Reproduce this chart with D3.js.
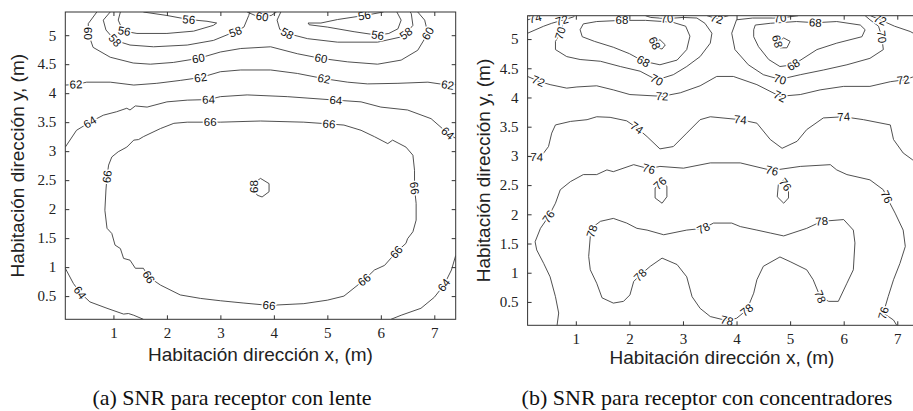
<!DOCTYPE html>
<html><head><meta charset="utf-8">
<script src="https://cdn.jsdelivr.net/npm/d3@7"></script>
<style>body{margin:0;background:#fff}</style>
</head><body><svg id="c" width="913" height="411"></svg>
<script>
// ---------- axes ----------
const xTicks = [1,2,3,4,5,6,7];
const yTicks = [0.5,1,1.5,2,2.5,3,3.5,4,4.5,5];
const xDomain = [0.1,7.4];
const yDomain = [0.1,5.4];
const xTitle = "Habitación dirección x, (m)";
const yTitle = "Habitación dirección y, (m)";
const captions = ["(a) SNR para receptor con lente","(b) SNR para receptor con concentradores"];

// ---------- (a) lente : contour lines [x,y] in metres ----------
const l56a = [[1.13,5.4],[1.09,5.26],[1.16,5.11],[1.19,5.07],[1.44,5.03],[2.0,5.03],[2.5,5.07],[2.87,5.17],[2.93,5.21],[2.75,5.24],[2.41,5.27],[2.0,5.34],[1.56,5.4]];
const l56aLab = [[1.2,5.07],[2.41,5.27]];
const l56b = [[6.05,5.4],[5.69,5.34],[5.19,5.27],[4.88,5.21],[4.64,5.21],[4.66,5.18],[5.0,5.14],[5.5,5.06],[5.94,5.0],[6.15,5.03],[6.32,5.11],[6.38,5.26],[6.3,5.4]];
const l56bLab = [[5.69,5.34],[5.94,5.0]];
const l58a = [[0.94,5.4],[0.81,5.26],[0.86,5.09],[1.03,4.91],[1.31,4.83],[1.75,4.8],[2.38,4.83],[2.87,4.91],[3.19,5.03],[3.28,5.06],[3.44,5.14],[3.53,5.34],[3.55,5.4]];
const l58aLab = [[1.03,4.91],[3.28,5.06]];
const l58b = [[4.13,5.4],[4.06,5.26],[4.11,5.1],[4.25,5.03],[4.63,4.94],[5.19,4.88],[5.94,4.88],[6.38,4.97],[6.47,5.03],[6.6,5.17],[6.57,5.37],[6.55,5.4]];
const l58bLab = [[4.25,5.03],[6.47,5.03]];
const l60a = [[0.69,5.4],[0.53,5.2],[0.53,5.03],[0.62,4.79],[0.94,4.62],[1.37,4.52],[1.69,4.5],[2.12,4.53],[2.59,4.6],[3.0,4.71],[3.38,4.77],[3.94,4.8],[4.44,4.68],[4.88,4.6],[5.38,4.54],[5.94,4.5],[6.38,4.57],[6.69,4.74],[6.88,5.03],[6.82,5.26],[6.69,5.4]];
const l60aLab = [[0.53,5.03],[2.59,4.6],[4.88,4.6],[6.88,5.03]];
const l60b = [[3.5,5.4],[3.65,5.34],[3.78,5.32],[3.95,5.34],[4.05,5.4]];
const l60bLab = [[3.78,5.32]];
const l62 = [[0.1,4.14],[0.3,4.15],[0.5,4.19],[0.94,4.19],[1.38,4.14],[1.81,4.17],[2.25,4.22],[2.63,4.27],[3.0,4.37],[3.38,4.4],[3.94,4.4],[4.44,4.34],[4.94,4.25],[5.38,4.19],[5.75,4.16],[6.32,4.17],[6.88,4.19],[7.25,4.14],[7.4,4.15]];
const l62Lab = [[0.3,4.15],[2.63,4.27],[4.94,4.25],[7.25,4.14]];
const l64a = [[0.1,3.07],[0.31,3.36],[0.56,3.5],[0.81,3.62],[1.06,3.68],[1.25,3.74],[1.31,3.71],[1.41,3.78],[1.63,3.76],[2.0,3.85],[2.38,3.88],[2.78,3.89],[3.0,3.94],[3.5,3.97],[4.25,3.94],[5.16,3.88],[5.63,3.85],[6.0,3.76],[6.5,3.71],[6.94,3.56],[7.25,3.31],[7.4,3.22]];
const l64aLab = [[0.56,3.5],[2.78,3.89],[5.16,3.88],[7.25,3.31]];
const l64b = [[0.1,0.98],[0.25,0.72],[0.375,0.56],[0.56,0.4],[0.88,0.29],[1.19,0.19],[1.28,0.2],[1.38,0.17],[1.56,0.1]];
const l64bLab = [[0.375,0.56]];
const l64c = [[6.19,0.1],[6.38,0.17],[6.75,0.29],[7.0,0.48],[7.18,0.69],[7.32,0.95],[7.4,1.2]];
const l64cLab = [[7.18,0.69]];
const l66 = [[3.0,3.5],[2.38,3.5],[2.13,3.48],[1.88,3.39],[1.56,3.25],[1.47,3.2],[1.38,3.19],[1.25,3.07],[1.09,2.99],[0.97,2.9],[0.91,2.76],[0.88,2.56],[0.86,2.33],[0.84,1.98],[0.88,1.67],[0.97,1.58],[1.03,1.38],[1.13,1.32],[1.19,1.15],[1.31,1.12],[1.41,0.98],[1.56,0.98],[1.66,0.83],[1.88,0.69],[2.25,0.52],[2.63,0.46],[3.0,0.42],[3.44,0.38],[3.91,0.34],[4.56,0.37],[5.0,0.43],[5.31,0.5],[5.69,0.78],[5.88,0.95],[6.07,1.03],[6.29,1.26],[6.47,1.41],[6.5,1.49],[6.6,1.61],[6.66,1.81],[6.66,2.1],[6.63,2.36],[6.63,2.67],[6.6,2.93],[6.47,3.07],[6.22,3.19],[6.13,3.13],[5.88,3.25],[5.63,3.36],[5.31,3.45],[5.03,3.47],[4.56,3.5],[3.75,3.52],[3.0,3.5]];
const l66Lab = [[2.81,3.5],[0.88,2.56],[1.66,0.83],[3.91,0.34],[5.69,0.78],[6.29,1.26],[6.63,2.36],[5.03,3.47]];
const l68 = [[3.75,2.53],[3.91,2.44],[3.91,2.3],[3.78,2.21],[3.69,2.24],[3.63,2.33],[3.63,2.45],[3.75,2.53]];
const l68Lab = [[3.63,2.39]];

// ---------- (b) concentradores ----------
const c74a = [[0.1,5.33],[0.24,5.36],[0.32,5.4]];
const c74aLab = [[0.24,5.36]];
const c72a = [[0.1,5.1],[0.4,5.22],[0.55,5.27],[0.74,5.32],[0.96,5.38],[0.98,5.4]];
const c72aLab = [[0.74,5.32]];
const c70a = [[0.85,5.4],[0.8,5.36],[0.71,5.1],[0.62,4.96],[0.62,4.82],[0.83,4.7],[1.08,4.65],[1.46,4.62],[1.83,4.53],[2.2,4.45],[2.51,4.3],[2.82,4.39],[3.07,4.53],[3.32,4.7],[3.51,4.93],[3.54,5.1],[3.41,5.27],[3.26,5.36],[3.0,5.37],[2.7,5.35],[2.4,5.37],[2.3,5.4]];
const c70aLab = [[0.71,5.1],[2.51,4.3],[2.7,5.35]];
const c68a = [[1.14,5.26],[1.08,5.16],[1.12,5.04],[1.35,4.96],[1.7,4.86],[2.0,4.75],[2.26,4.62],[2.57,4.56],[2.89,4.64],[3.07,4.82],[3.13,5.05],[3.05,5.22],[2.8,5.29],[2.3,5.32],[1.86,5.32],[1.39,5.3],[1.14,5.26]];
const c68aLab = [[1.86,5.32],[2.26,4.62]];
const c68a2 = [[2.57,4.99],[2.67,4.9],[2.61,4.83],[2.51,4.85],[2.47,4.93],[2.57,4.99]];
const c68a2Lab = [[2.47,4.93]];
const c72b = [[3.45,5.4],[3.63,5.35],[3.85,5.4]];
const c72bLab = [[3.63,5.35]];
const c70b = [[5.15,5.4],[4.81,5.36],[4.3,5.36],[4.0,5.33],[3.91,5.1],[3.97,4.82],[4.22,4.56],[4.5,4.39],[4.81,4.31],[5.19,4.39],[5.62,4.47],[6.06,4.56],[6.49,4.67],[6.74,4.82],[6.71,5.04],[6.65,5.22],[6.49,5.33],[6.4,5.4]];
const c70bLab = [[4.81,5.36],[4.81,4.31],[6.71,5.04]];
const c68b = [[4.32,5.16],[4.35,5.24],[4.63,5.27],[5.12,5.3],[5.47,5.28],[5.87,5.3],[6.31,5.24],[6.4,5.16],[6.34,5.04],[5.87,4.93],[5.5,4.82],[5.06,4.56],[4.81,4.53],[4.6,4.65],[4.41,4.87],[4.32,5.04],[4.32,5.16]];
const c68bLab = [[5.47,5.28],[5.06,4.56]];
const c68b2 = [[4.88,5.02],[5.0,4.96],[4.94,4.85],[4.81,4.85],[4.78,4.95],[4.88,5.02]];
const c68b2Lab = [[4.76,4.96]];
const c72c = [[6.5,5.4],[6.68,5.33],[6.95,5.22],[7.24,5.13],[7.4,5.05]];
const c72cLab = [[6.68,5.33]];
const c72 = [[0.1,4.36],[0.3,4.28],[0.52,4.22],[0.83,4.16],[1.02,4.18],[1.39,4.2],[1.7,4.13],[2.01,4.05],[2.61,4.02],[2.95,4.08],[3.32,4.2],[3.63,4.36],[3.94,4.36],[4.38,4.22],[4.81,4.02],[5.19,4.05],[5.56,4.13],[6.0,4.19],[6.49,4.19],[6.87,4.27],[7.11,4.3],[7.29,4.35],[7.4,4.37]];
const c72Lab = [[0.3,4.28],[2.61,4.02],[4.81,4.02],[7.11,4.3]];
const c74 = [[0.1,2.99],[0.27,2.98],[0.4,3.05],[0.49,3.16],[0.55,3.39],[0.62,3.53],[0.9,3.59],[1.21,3.62],[1.39,3.67],[1.64,3.66],[1.95,3.6],[2.14,3.48],[2.33,3.33],[2.57,3.12],[2.82,3.16],[3.07,3.39],[3.32,3.62],[3.51,3.67],[4.07,3.62],[4.38,3.56],[4.63,3.28],[4.85,3.13],[5.13,3.25],[5.31,3.45],[5.62,3.65],[6.0,3.67],[6.37,3.62],[6.87,3.53],[6.93,3.28],[7.11,3.05],[7.29,2.93],[7.4,2.9]];
const c74Lab = [[0.27,2.98],[2.14,3.48],[4.07,3.62],[6.0,3.67]];
const c76 = [[0.65,0.1],[0.68,0.31],[0.62,0.59],[0.52,0.93],[0.4,1.16],[0.27,1.39],[0.24,1.53],[0.34,1.76],[0.49,1.96],[0.62,2.19],[0.71,2.42],[0.9,2.56],[1.14,2.68],[1.39,2.68],[1.58,2.76],[1.7,2.73],[2.08,2.85],[2.36,2.78],[2.57,2.82],[3.01,2.79],[3.51,2.88],[4.07,2.88],[4.66,2.75],[5.19,2.82],[5.75,2.85],[5.87,2.76],[6.06,2.68],[6.49,2.59],[6.74,2.42],[6.8,2.3],[6.96,2.02],[7.11,1.73],[7.15,1.45],[7.05,1.16],[6.93,0.88],[6.83,0.59],[6.74,0.31],[6.93,0.19],[6.99,0.1]];
const c76Lab = [[0.49,1.96],[2.36,2.78],[4.66,2.75],[6.8,2.3],[6.74,0.31]];
const c76a = [[2.61,2.56],[2.7,2.48],[2.7,2.3],[2.61,2.19],[2.48,2.28],[2.48,2.45],[2.61,2.56]];
const c76aLab = [[2.57,2.53]];
const c76b = [[4.88,2.59],[4.97,2.48],[4.97,2.28],[4.88,2.19],[4.76,2.3],[4.78,2.51],[4.88,2.59]];
const c76bLab = [[4.91,2.51]];
const c78 = [[1.27,1.62],[1.24,1.28],[1.27,1.05],[1.39,0.82],[1.49,0.57],[1.7,0.48],[1.89,0.51],[2.01,0.62],[2.08,0.85],[2.2,0.96],[2.39,1.11],[2.61,1.25],[2.89,1.14],[3.07,0.93],[3.17,0.59],[3.32,0.39],[3.51,0.25],[3.82,0.18],[4.0,0.22],[4.19,0.36],[4.32,0.65],[4.38,0.88],[4.5,1.11],[4.81,1.27],[5.0,1.19],[5.31,1.05],[5.43,0.88],[5.56,0.59],[5.72,0.51],[5.9,0.51],[6.06,0.82],[6.18,1.05],[6.21,1.51],[6.18,1.73],[6.0,1.91],[5.59,1.88],[5.31,1.76],[4.88,1.63],[4.63,1.68],[4.38,1.73],[4.07,1.79],[3.91,1.85],[3.57,1.85],[3.38,1.76],[3.07,1.73],[2.64,1.65],[2.33,1.73],[2.14,1.76],[1.95,1.85],[1.7,1.93],[1.46,1.88],[1.33,1.79],[1.27,1.62]];
const c78Lab = [[1.3,1.71],[2.2,0.96],[3.82,0.18],[4.19,0.36],[5.56,0.59],[5.59,1.88],[3.38,1.76]];

// tables built from the arrays above
const lenteLines = [
  [56,l56a,l56aLab],[56,l56b,l56bLab],[58,l58a,l58aLab],[58,l58b,l58bLab],
  [60,l60a,l60aLab],[60,l60b,l60bLab],[62,l62,l62Lab],[64,l64a,l64aLab],
  [64,l64b,l64bLab],[64,l64c,l64cLab],[66,l66,l66Lab],[68,l68,l68Lab]];
const concLines = [
  [74,c74a,c74aLab],[72,c72a,c72aLab],[70,c70a,c70aLab],[68,c68a,c68aLab],[68,c68a2,c68a2Lab],
  [72,c72b,c72bLab],[70,c70b,c70bLab],[68,c68b,c68bLab],[68,c68b2,c68b2Lab],[72,c72c,c72cLab],
  [72,c72,c72Lab],[74,c74,c74Lab],[76,c76,c76Lab],[76,c76a,c76aLab],[76,c76b,c76bLab],[78,c78,c78Lab]];

const svg = d3.select("#c");
const panels = [
  {lines: lenteLines, xr:[65.3,455.7], yr:[319.3,12], ytx:24, xty:361, cap:captions[0], capx:232},
  {lines: concLines,  xr:[527.6,918.7], yr:[325.3,15.7], ytx:490, xty:364, cap:captions[1], capx:707}
];

panels.forEach((p,i)=>{
  const x = d3.scaleLinear().domain(xDomain).range(p.xr);
  const y = d3.scaleLinear().domain(yDomain).range(p.yr);
  const g = svg.append("g");
  const clipId = "clip"+i;
  g.append("clipPath").attr("id",clipId).append("rect")
    .attr("x",p.xr[0]).attr("y",p.yr[1]).attr("width",p.xr[1]-p.xr[0]).attr("height",p.yr[0]-p.yr[1]);
  const inner = g.append("g").attr("clip-path",`url(#${clipId})`);
  const line = d3.line().x(d=>x(d[0])).y(d=>y(d[1]));
  p.lines.forEach(([lev,pts])=>{
    inner.append("path").attr("d",line(pts)).attr("fill","none")
      .attr("stroke","#3c3c3c").attr("stroke-width",0.9);
  });
  // labels
  p.lines.forEach(([lev,pts,labs])=>{
    labs.forEach(lp=>{
      const px = x(lp[0]), py = y(lp[1]);
      let best=1e9, ang=0;
      for(let k=0;k<pts.length-1;k++){
        const ax=x(pts[k][0]), ay=y(pts[k][1]), bx=x(pts[k+1][0]), by=y(pts[k+1][1]);
        const dx=bx-ax, dy=by-ay, L=dx*dx+dy*dy||1;
        let t=((px-ax)*dx+(py-ay)*dy)/L; t=Math.max(0,Math.min(1,t));
        const qx=ax+t*dx-px, qy=ay+t*dy-py, dd=qx*qx+qy*qy;
        if(dd<best){best=dd; ang=Math.atan2(dy,dx)*180/Math.PI;}
      }
      if(ang>90) ang-=180; if(ang<-90) ang+=180;
      inner.append("text").attr("transform",`translate(${px},${py}) rotate(${ang})`)
        .attr("text-anchor","middle").attr("dy","0.35em")
        .attr("font-family","Liberation Sans, Arial, sans-serif").attr("font-size",11.5)
        .attr("fill","#111").attr("stroke","#fff").attr("stroke-width",3)
        .attr("paint-order","stroke").text(lev);
    });
  });
  // frame
  g.append("rect").attr("x",p.xr[0]).attr("y",p.yr[1]).attr("width",p.xr[1]-p.xr[0])
    .attr("height",p.yr[0]-p.yr[1]).attr("fill","none").attr("stroke","#333").attr("stroke-width",1);
  // axes with inward ticks
  const fmt = d3.format("");
  const tickStyle = sel=>{
    sel.select(".domain").remove();
    sel.selectAll(".tick line").attr("stroke","#333");
    sel.selectAll(".tick text").attr("font-family","Liberation Serif, Times New Roman, serif")
      .attr("font-size",15).attr("fill","#222");
  };
  g.append("g").attr("transform",`translate(0,${p.yr[0]})`)
    .call(d3.axisBottom(x).tickValues(xTicks).tickFormat(fmt).tickSizeInner(-4).tickPadding(8)).call(tickStyle);
  g.append("g").attr("transform",`translate(0,${p.yr[1]})`)
    .call(d3.axisTop(x).tickValues(xTicks).tickFormat("").tickSizeInner(-4)).call(tickStyle);
  g.append("g").attr("transform",`translate(${p.xr[0]},0)`)
    .call(d3.axisLeft(y).tickValues(yTicks).tickFormat(fmt).tickSizeInner(-4).tickPadding(9)).call(tickStyle);
  g.append("g").attr("transform",`translate(${p.xr[1]},0)`)
    .call(d3.axisRight(y).tickValues(yTicks).tickFormat("").tickSizeInner(-4)).call(tickStyle);
  // titles
  const xmid = i ? 722 : (p.xr[0]+p.xr[1])/2;
  g.append("text").attr("x",xmid).attr("y",p.xty)
    .attr("text-anchor","middle").attr("font-family","Liberation Sans, Arial, sans-serif")
    .attr("font-size",19).attr("fill","#222").text(xTitle);
  g.append("text").attr("transform",`translate(${p.ytx},${(p.yr[0]+p.yr[1])/2}) rotate(-90)`)
    .attr("text-anchor","middle").attr("font-family","Liberation Sans, Arial, sans-serif")
    .attr("font-size",19).attr("fill","#222").text(yTitle);
  g.append("text").attr("x",p.capx).attr("y",405).attr("text-anchor","middle")
    .attr("font-family","Liberation Serif, Times New Roman, serif").attr("font-size",22)
    .attr("fill","#111").text(p.cap);
});
</script></body></html>
